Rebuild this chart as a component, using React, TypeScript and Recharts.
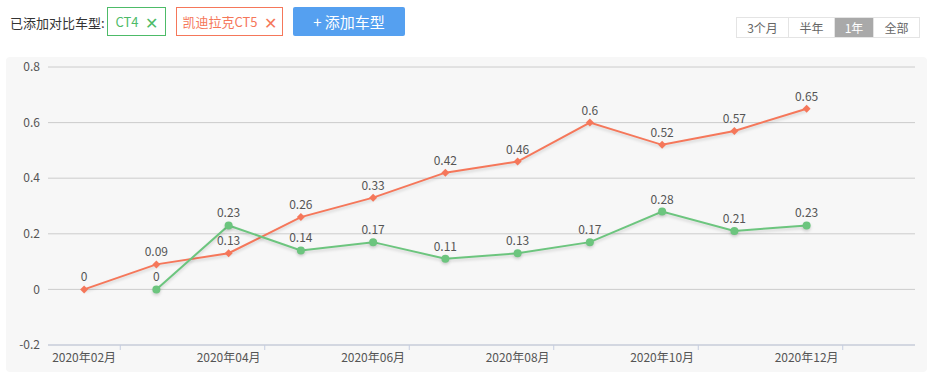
import { LineChart, Line, XAxis, YAxis, CartesianGrid, LabelList } from 'recharts';

const months = [
  '2020年02月', '2020年03月', '2020年04月', '2020年05月', '2020年06月', '2020年07月',
  '2020年08月', '2020年09月', '2020年10月', '2020年11月', '2020年12月', '2021年01月',
];
const ct5Values = [0, 0.09, 0.13, 0.26, 0.33, 0.42, 0.46, 0.6, 0.52, 0.57, 0.65, null];
const ct4Values = [null, 0, 0.23, 0.14, 0.17, 0.11, 0.13, 0.17, 0.28, 0.21, 0.23, null];
const yTicks = [-0.2, 0, 0.2, 0.4, 0.6, 0.8];
const ranges = ['3个月', '半年', '1年', '全部'];

const data = months.map((m, i) => ({ month: m, ct5: ct5Values[i], ct4: ct4Values[i] }));

const ORANGE = '#f5775a';
const GREEN = '#6cc57e';
const FONT = '"Microsoft YaHei", "Noto Sans CJK SC", sans-serif';

const CHART_W = 921;
const CHART_H = 315;
const MARGIN = { top: 10, right: 12, bottom: 0, left: 0 };
const Y_W = 42;
const BAND = (CHART_W - MARGIN.left - MARGIN.right - Y_W) / months.length;

function Diamond(props: any) {
  const { cx, cy, value } = props;
  if (value == null || cx == null) return <g key={props.key} />;
  const r = 4;
  return (
    <polygon
      key={props.key}
      points={`${cx},${cy - r} ${cx + r},${cy} ${cx},${cy + r} ${cx - r},${cy}`}
      fill={ORANGE}
    />
  );
}

// labels sit on the category centre, the tick mark on its right edge
function MonthTick(props: any) {
  const { x, y, payload } = props;
  return (
    <g>
      <line x1={x + BAND / 2} x2={x + BAND / 2} y1={y - 8} y2={y - 3} stroke="#c5cde0" />
      <text x={x} y={y + 9} textAnchor="middle" fill="#555" fontSize={12} fontFamily={FONT}>
        {payload.value}
      </text>
    </g>
  );
}

const lineShadow = { filter: 'drop-shadow(0px 2px 1.5px rgba(0,0,0,0.15))' };

export default function App() {
  return (
    <div style={{ position: 'absolute', left: 0, top: 0, width: 927, height: 376, background: '#fff', fontFamily: FONT }}>
      {/* header */}
      <div style={{ position: 'absolute', left: 10, top: 13, fontSize: 13, color: '#333' }}>已添加对比车型:</div>
      <div style={{ position: 'absolute', left: 107, top: 7, width: 57, height: 27, border: '1px solid #4dbb68', color: '#4dbb68', fontSize: 13, display: 'flex', alignItems: 'center', justifyContent: 'center', gap: 6 }}>
        CT4 <span style={{ fontSize: 16 }}>✕</span>
      </div>
      <div style={{ position: 'absolute', left: 176, top: 7, width: 105, height: 27, border: `1px solid ${ORANGE}`, color: ORANGE, fontSize: 13, display: 'flex', alignItems: 'center', justifyContent: 'center', gap: 6 }}>
        凯迪拉克CT5 <span style={{ fontSize: 16 }}>✕</span>
      </div>
      <div style={{ position: 'absolute', left: 293, top: 7, width: 112, height: 29, background: '#55a0f0', borderRadius: 2, color: '#fff', fontSize: 15, display: 'flex', alignItems: 'center', justifyContent: 'center' }}>
        + 添加车型
      </div>
      <div style={{ position: 'absolute', left: 736, top: 17, display: 'flex', border: '1px solid #e4e4e4', height: 19 }}>
        {ranges.map((r, i) => (
          <div
            key={r}
            style={{
              width: [51, 45, 38, 45][i],
              fontSize: 12,
              lineHeight: '19px',
              textAlign: 'center',
              color: r === '1年' ? '#fff' : '#666',
              background: r === '1年' ? '#a9a9a9' : '#fff',
              borderLeft: i > 0 ? '1px solid #e4e4e4' : 'none',
            }}
          >
            {r}
          </div>
        ))}
      </div>

      {/* chart */}
      <div style={{ position: 'absolute', left: 6, top: 57, width: CHART_W, height: CHART_H, background: '#f7f7f7', borderRadius: 4 }}>
        <LineChart width={CHART_W} height={CHART_H} data={data} margin={MARGIN}>
          <CartesianGrid horizontal vertical={false} stroke="#cccccc" />
          <XAxis
            dataKey="month"
            interval={1}
            padding={{ left: BAND / 2, right: BAND / 2 }}
            tickLine={false}
            axisLine={{ stroke: '#c5cde0' }}
            tick={<MonthTick />}
            height={27}
          />
          <YAxis
            domain={[-0.2, 0.8]}
            ticks={yTicks}
            width={Y_W}
            axisLine={false}
            tickLine={false}
            tick={{ fill: '#555', fontSize: 12, fontFamily: FONT }}
          />
          <Line
            type="linear"
            dataKey="ct5"
            stroke={ORANGE}
            strokeWidth={2}
            style={lineShadow}
            dot={Diamond}
            activeDot={false}
            isAnimationActive={false}
          >
            <LabelList dataKey="ct5" position="top" offset={8} fill="#555" fontSize={12} fontFamily={FONT} />
          </Line>
          <Line
            type="linear"
            dataKey="ct4"
            stroke={GREEN}
            strokeWidth={2}
            style={lineShadow}
            dot={{ r: 4, fill: GREEN, stroke: GREEN, strokeWidth: 0 }}
            activeDot={false}
            isAnimationActive={false}
          >
            <LabelList dataKey="ct4" position="top" offset={8} fill="#555" fontSize={12} fontFamily={FONT} />
          </Line>
        </LineChart>
      </div>
    </div>
  );
}
